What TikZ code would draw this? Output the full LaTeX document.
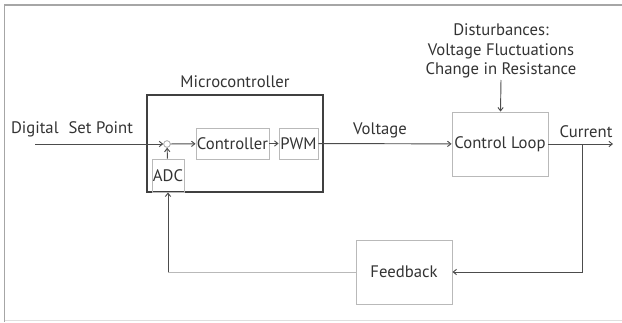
\documentclass[tikz,border=0pt]{standalone}
\usepackage{fontspec}
\setmainfont{PT Sans}
\usetikzlibrary{arrows.meta}

\begin{document}
\begin{tikzpicture}[x=0.75pt,y=-0.75pt,
  font=\fontsize{12.5}{14.5}\selectfont, text=black!80,
  blk/.style={draw=gray!55,line width=0.7pt,inner sep=1pt},
  sig/.style={draw=black!70,line width=0.7pt,-{Straight Barb[length=2.5pt,width=4pt]}},
  ln/.style={draw=black!70,line width=0.7pt}]
  \useasboundingbox (0,0) rectangle (622,322);
  % frame
  \draw[gray!70,line width=1pt] (4.5,322) -- (4.5,5) -- (622,5);
  \draw[gray!25,line width=1pt] (4.5,320.5) -- (622,320.5);
  % microcontroller
  \node[draw=black!75,line width=1.4pt,minimum width=132pt,minimum height=72.75pt] (mc) at (235,143.5) {};
  \node (mclabel) at (235,82) {Microcontroller};
  \node[draw=gray!70,line width=0.6pt,circle,minimum size=5pt,inner sep=0pt] (sum) at (167,144) {};
  \node[blk,minimum width=24pt,minimum height=24.75pt,inner sep=0pt] (adc) at (168,175.5) {ADC};
  \node[blk,minimum width=54.75pt,minimum height=23.25pt,inner sep=0pt] (ctrl) at (232.5,143.5) {Controller};
  \node[blk,minimum width=29.25pt,minimum height=23.25pt,inner sep=0pt] (pwm) at (298.5,143.5) {PWM};
  % plant and feedback
  \node[blk,minimum width=72pt,minimum height=48pt] (loop) at (500,144) {Control Loop};
  \node[blk,minimum width=72pt,minimum height=48pt] (fb) at (404,272) {Feedback};
  \node[align=center,inner sep=0pt] (dist) at (501,51) {Disturbances:\\Voltage Fluctuations\\Change in Resistance};
  \coordinate (distend) at (501,80);
  % signals
  \coordinate (in) at (35,144);
  \node (splabel) at (72,129) {Digital\hspace{0.6em}Set Point};
  \node (vlabel) at (380,130) {Voltage};
  \coordinate (out) at (613,144);
  \node (clabel) at (586,132) {Current};
  \coordinate (tap) at (582,144);
  \coordinate (fbcorner) at (168,272);
  \draw[sig] (in) -- (sum);
  \draw[sig] (sum) -- (ctrl);
  \draw[sig] (ctrl) -- (pwm);
  \draw[sig] (adc) -- (sum);
  \draw[sig] (pwm) -- (loop);
  \draw[sig] (distend) -- (loop);
  \draw[sig] (loop) -- (out);
  \draw[sig] (tap) |- (fb);
  \draw[gray!55,line width=0.7pt] (fb) -- (fbcorner);
  \draw[sig] (fbcorner) -- (adc);
\end{tikzpicture}
\end{document}
